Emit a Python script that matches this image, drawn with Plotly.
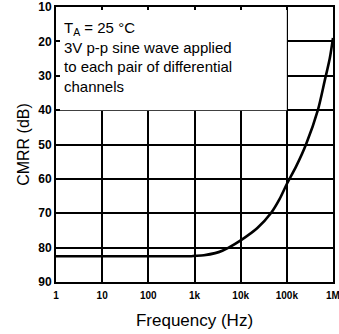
import plotly.graph_objects as go

freq_hz = [1, 10, 100, 800, 1000, 1600, 2800, 4000, 5500, 10000, 23000, 45000, 70000, 100000, 160000, 260000, 470000, 660000, 850000, 1000000]
cmrr_db = [82.5, 82.5, 82.5, 82.5, 82.4, 82.2, 81.6, 80.9, 80.0, 77.9, 74.3, 70.0, 65.8, 61.5, 56.3, 50.0, 40.0, 31.5, 25.0, 19.0]

x_tickvals = [1, 10, 100, 1000, 10000, 100000, 1000000]
x_ticktext = ["1", "10", "100", "1k", "10k", "100k", "1M"]
y_tickvals = [10, 20, 30, 40, 50, 60, 70, 80, 90]
y_ticktext = ["10", "20", "30", "40", "50", "60", "70", "80", "90"]

note_lines = ["T<sub>A</sub> = 25 °C", "3V p-p sine wave applied", "to each pair of differential", "channels"]

fig = go.Figure()
fig.add_trace(go.Scatter(x=freq_hz, y=cmrr_db, mode="lines",
                         line=dict(color="black", width=2.6, shape="spline", smoothing=0.8),
                         showlegend=False, hoverinfo="skip"))

# white box behind the note (covers grid, under traces)
fig.add_shape(type="rect", xref="x", yref="y", x0=1, x1=100000, y0=10, y1=40,
              fillcolor="white", line=dict(width=0), layer="between")

fig.add_annotation(xref="paper", yref="paper", x=0.02, y=0.965, xanchor="left", yanchor="top",
                   text="<br>".join(note_lines), showarrow=False, align="left",
                   font=dict(family="Liberation Sans, Arial", size=15, color="black"))

fig.update_layout(
    width=339, height=334,
    margin=dict(l=55.5, r=5.7, t=6.5, b=51.5),
    paper_bgcolor="white", plot_bgcolor="white",
    font=dict(family="Liberation Sans, Arial", color="black"),
    xaxis=dict(type="log", range=[0, 6], tickvals=x_tickvals, ticktext=x_ticktext,
               showgrid=True, gridcolor="black", gridwidth=1.5, automargin=False,
               ticklabeloverflow="allow", ticklabelstandoff=3,
               showline=True, linecolor="black", linewidth=2, mirror="ticks",
               ticks="inside", ticklen=3, tickcolor="black", tickwidth=1.5,
               tickfont=dict(family="Liberation Sans, Arial", size=10, weight="bold"),
               title=dict(text="Frequency (Hz)", font=dict(size=17), standoff=14),
               zeroline=False),
    yaxis=dict(range=[90, 10], tickvals=y_tickvals, ticktext=y_ticktext,
               showgrid=True, gridcolor="black", gridwidth=1.5, automargin=False,
               ticklabeloverflow="allow",
               showline=True, linecolor="black", linewidth=2, mirror="ticks",
               ticks="inside", ticklen=4, tickcolor="black", tickwidth=1.5,
               tickfont=dict(family="Liberation Sans, Arial", size=12, weight="bold"),
               title=dict(text="CMRR (dB)", font=dict(size=16), standoff=5),
               zeroline=False),
)

fig.write_html("out.html", config={"displayModeBar": False},
               post_script="document.body.style.margin='0px';")
